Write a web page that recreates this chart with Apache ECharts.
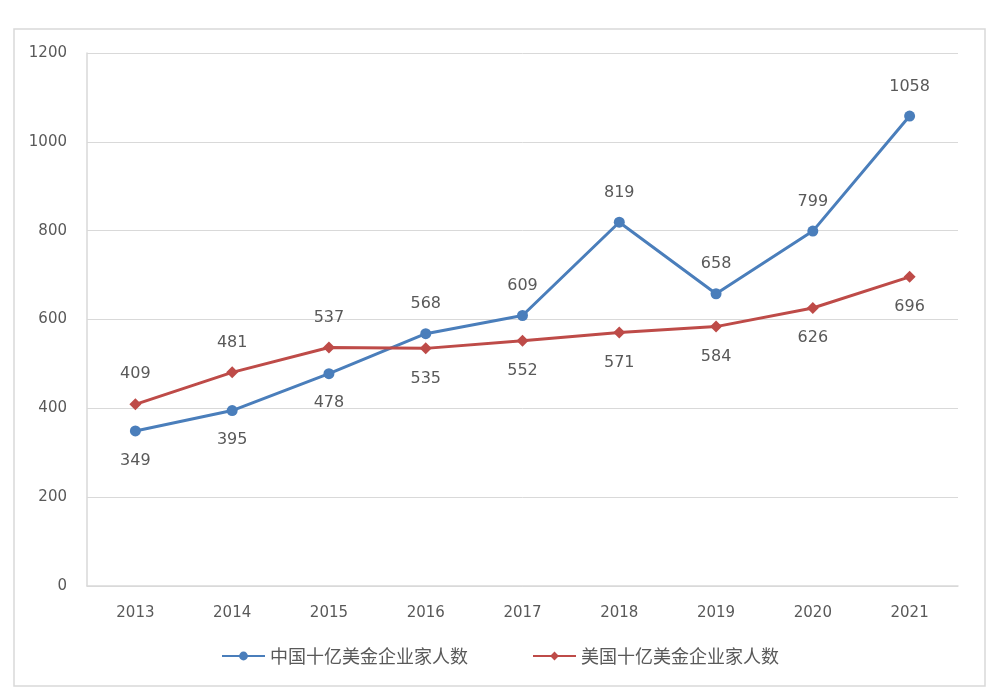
<!DOCTYPE html>
<html>
<head>
<meta charset="utf-8">
<script src="https://cdn.jsdelivr.net/npm/echarts@6/dist/echarts.min.js"></script>
<style>
  html, body { margin: 0; padding: 0; background: #fff; }
  #main { width: 1000px; height: 689px; }
</style>
</head>
<body>
<div id="main"></div>
<script>
// 年份
const years = ['2013', '2014', '2015', '2016', '2017', '2018', '2019', '2020', '2021'];
// 中国十亿美金企业家人数
const chinaValues = [349, 395, 478, 568, 609, 819, 658, 799, 1058];
// 美国十亿美金企业家人数
const usValues = [409, 481, 537, 535, 552, 571, 584, 626, 696];
// 标签位置
const chinaLabelPos = ['bottom', 'bottom', 'bottom', 'top', 'top', 'top', 'top', 'top', 'top'];
const usLabelPos = ['top', 'top', 'top', 'bottom', 'bottom', 'bottom', 'bottom', 'bottom', 'bottom'];

const cjkFont = '"Noto Sans CJK SC", sans-serif';
const numFont = '"DejaVu Sans", "Noto Sans CJK SC", sans-serif';
const labelStyle = { color: '#595959', fontSize: 16, fontFamily: numFont, distance: 16 };

function buildData(values, positions) {
    return values.map((v, i) => ({
        value: v,
        label: { position: positions[i] }
    }));
}

var chartDom = document.getElementById('main');
var myChart = echarts.init(chartDom);
var option = {
    animation: false,
    backgroundColor: '#fff',
    graphic: [{
        type: 'rect',
        shape: { x: 14, y: 29, width: 971, height: 657 },
        style: { fill: 'none', stroke: '#d9d9d9', lineWidth: 1.5 },
        z: -1
    }],
    grid: { left: 87, right: 42, top: 53, bottom: 103 },
    legend: {
        top: 642,
        left: 'center',
        itemGap: 64,
        itemWidth: 43,
        itemHeight: 11,
        textStyle: { color: '#595959', fontSize: 18, fontFamily: cjkFont },
        data: ['中国十亿美金企业家人数', '美国十亿美金企业家人数']
    },
    xAxis: {
        type: 'category',
        data: years,
        boundaryGap: true,
        axisLine: { lineStyle: { color: '#d9d9d9', width: 1.5 } },
        axisTick: { show: false },
        axisLabel: { color: '#595959', fontSize: 15, fontFamily: numFont, margin: 20 }
    },
    yAxis: {
        type: 'value',
        min: 0,
        max: 1200,
        interval: 200,
        axisLine: { show: true, lineStyle: { color: '#d9d9d9', width: 1.5 } },
        axisTick: { show: false },
        splitLine: { lineStyle: { color: '#d9d9d9', width: 1 } },
        axisLabel: {
            color: '#595959', fontSize: 15, fontFamily: numFont, margin: 20,
            formatter: function (v) { return String(v); }
        }
    },
    series: [
        {
            name: '中国十亿美金企业家人数',
            type: 'line',
            data: buildData(chinaValues, chinaLabelPos),
            symbol: 'circle',
            symbolSize: 11,
            color: '#4a7ebb',
            lineStyle: { width: 3, color: '#4a7ebb' },
            label: Object.assign({ show: true }, labelStyle)
        },
        {
            name: '美国十亿美金企业家人数',
            type: 'line',
            data: buildData(usValues, usLabelPos),
            symbol: 'diamond',
            symbolSize: 12,
            color: '#be4b48',
            lineStyle: { width: 3, color: '#be4b48' },
            label: Object.assign({ show: true }, labelStyle)
        }
    ]
};

myChart.setOption(option);
</script>
</body>
</html>
